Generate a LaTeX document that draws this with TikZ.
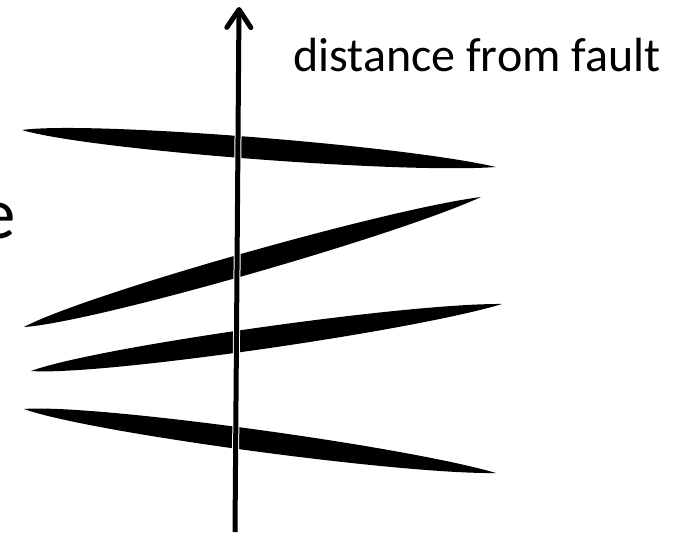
\documentclass[tikz,border=0pt]{standalone}
\usepackage{fontspec}
\setmainfont{Carlito}
\usetikzlibrary{calc,arrows.meta}
\newcommand\lensshape[3]{%
  \fill[lensfill] (#1) .. controls ($(#1)!0.14!(#2)!#3!90:(#2)$) and ($(#1)!0.80!(#2)!#3!90:(#2)$) .. (#2)
    .. controls ($(#1)!0.80!(#2)!#3!-90:(#2)$) and ($(#1)!0.14!(#2)!#3!-90:(#2)$) .. (#1) -- cycle;}
\begin{document}
\begin{tikzpicture}[x=1pt,y=-1pt,
  lensfill/.style={fill=black},
  axishalo/.style={draw=white,line width=7pt},
  axisline/.style={draw=black,line width=5pt,
    -{Straight Barb[length=18pt,width=24pt,line width=5pt,round]}},
  label/.style={inner sep=0pt,text=black}]
\useasboundingbox (0,0) rectangle (688,535);
\clip (0,0) rectangle (688,535);
\fill[white] (0,0) rectangle (688,535);
% lens tips
\coordinate (a1) at (22,130);  \coordinate (b1) at (496,167);
\coordinate (a2) at (24,327);  \coordinate (b2) at (481,197);
\coordinate (a3) at (31,371);  \coordinate (b3) at (502,304);
\coordinate (a4) at (24,409);  \coordinate (b4) at (496,473);
\lensshape{a1}{b1}{14.5pt}
\lensshape{a2}{b2}{14.5pt}
\lensshape{a3}{b3}{14.5pt}
\lensshape{a4}{b4}{14.5pt}
% axis
\coordinate (bot) at (235,532);
\coordinate (top) at (239,7);
\coordinate (halotop) at ($(bot)!0.93!(top)$);
\draw[axishalo] (bot) -- (halotop);
\draw[axisline] (bot) -- (top);
% texts
\node[label,anchor=base west,font=\fontsize{48}{52}\selectfont] (lbl) at (293,72) {distance from fault};
\node[label,anchor=base east,font=\fontsize{73}{80}\selectfont] (cut) at (16,238) {e};
\end{tikzpicture}
\end{document}
